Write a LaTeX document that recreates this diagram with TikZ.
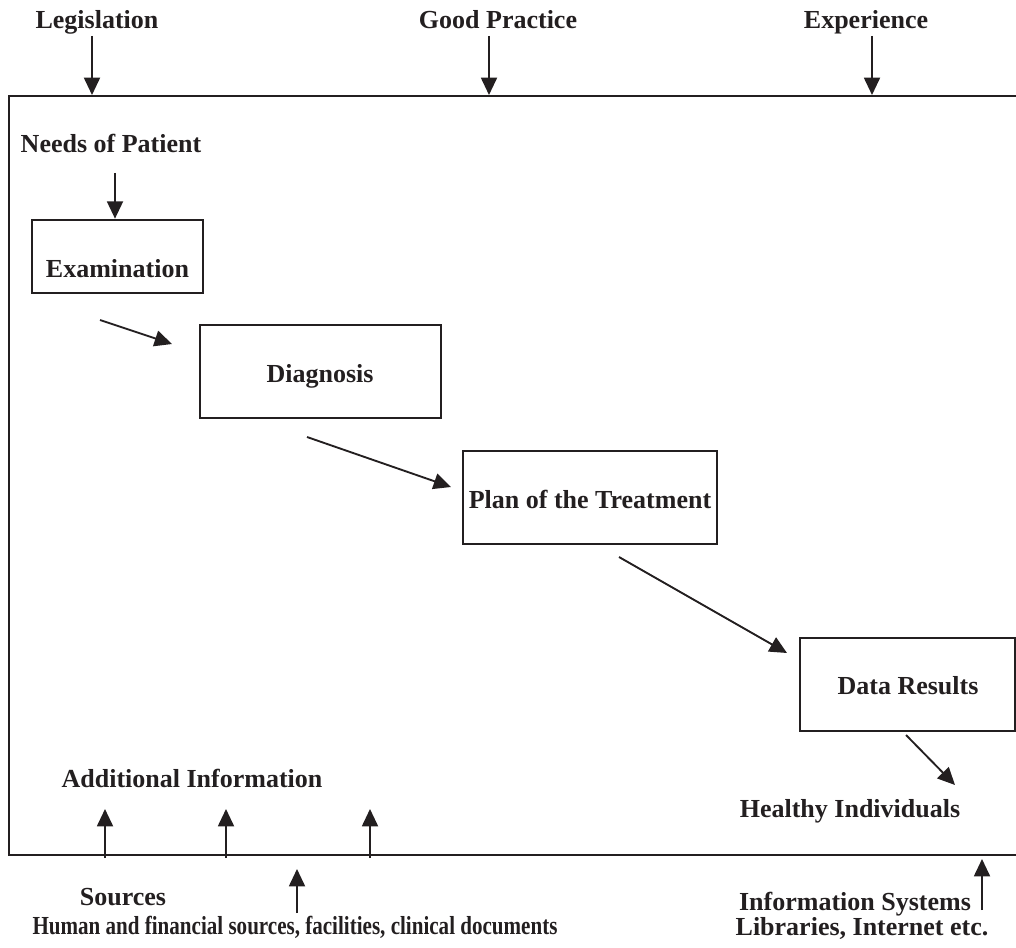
\documentclass[tikz,border=0pt]{standalone}
\usepackage{fontspec}
\setmainfont{Liberation Serif}
\usetikzlibrary{arrows.meta}
\definecolor{ink}{HTML}{231F20}
\begin{document}
\begin{tikzpicture}[x=0.75pt,y=-0.75pt,
  txt/.style={font=\fontsize{19.5}{22}\selectfont\bfseries, text=ink, inner sep=0pt, anchor=base},
  stagebox/.style={draw=ink, line width=2pt, inner sep=0pt},
  frame/.style={draw=ink, line width=2.1pt},
  conn/.style={draw=ink, line width=1.4pt, -{Triangle[length=13pt,width=12pt]}}
]
\useasboundingbox (0,0) rectangle (1016,948);
% outer frame (open on the right)
\draw[frame] (1016,96) -- (9,96) -- (9,855) -- (1016,855);

% top inputs
\node[txt] (leg) at (97,29) {Legislation};
\node[txt] (gp) at (498,29) {Good Practice};
\node[txt] (exp) at (866,29) {Experience};
\coordinate (legS) at (92,36);  \coordinate (legE) at (92,95);
\coordinate (gpS) at (489,36);  \coordinate (gpE) at (489,95);
\coordinate (expS) at (872,36); \coordinate (expE) at (872,95);
\draw[conn] (legS) -- (legE);
\draw[conn] (gpS) -- (gpE);
\draw[conn] (expS) -- (expE);

% needs
\node[txt] (needs) at (111,153) {Needs of Patient};
\coordinate (needsS) at (115,173);

% stages
\node[stagebox, minimum width=171*0.75pt, minimum height=73*0.75pt] (exam) at (117.5,256.5) {};
\node[txt] (examT) at (117.5,277) {Examination};
\node[stagebox, minimum width=241*0.75pt, minimum height=93*0.75pt] (diag) at (320.5,371.5) {};
\node[txt] (diagT) at (320,382) {Diagnosis};
\node[stagebox, minimum width=254*0.75pt, minimum height=93*0.75pt] (plan) at (590,497.5) {};
\node[txt] (planT) at (590,508) {Plan of the Treatment};
\node[stagebox, minimum width=215*0.75pt, minimum height=93*0.75pt] (data) at (907.5,684.5) {};
\node[txt] (dataT) at (908,694) {Data Results};

\node[txt] (healthy) at (850,817) {Healthy Individuals};

\draw[conn] (needsS) -- (exam.north -| needsS);
\coordinate (a1s) at (100,320); \coordinate (a1e) at (172,344);
\coordinate (a2s) at (307,437); \coordinate (a2e) at (451,487);
\coordinate (a3s) at (619,557); \coordinate (a3e) at (787,653);
\coordinate (a4s) at (906,735); \coordinate (a4e) at (955,785);
\draw[conn] (a1s) -- (a1e);
\draw[conn] (a2s) -- (a2e);
\draw[conn] (a3s) -- (a3e);
\draw[conn] (a4s) -- (a4e);

% additional information
\node[txt] (addinfo) at (192,787) {Additional Information};
\coordinate (u1s) at (105,858); \coordinate (u1e) at (105,809);
\coordinate (u2s) at (226,858); \coordinate (u2e) at (226,809);
\coordinate (u3s) at (370,858); \coordinate (u3e) at (370,809);
\draw[conn] (u1s) -- (u1e);
\draw[conn] (u2s) -- (u2e);
\draw[conn] (u3s) -- (u3e);

% sources
\node[txt] (sources) at (123,905) {Sources};
\node[txt] (human) at (295,934) {\scalebox{0.81}[1]{Human and financial sources, facilities, clinical documents}};
\coordinate (srcS) at (297,913); \coordinate (srcE) at (297,869);
\draw[conn] (srcS) -- (srcE);

% information systems
\node[txt] (infosys) at (855,910) {Information Systems};
\node[txt] (libs) at (862,935) {Libraries, Internet etc.};
\coordinate (isS) at (982,910); \coordinate (isE) at (982,859);
\draw[conn] (isS) -- (isE);
\end{tikzpicture}
\end{document}
